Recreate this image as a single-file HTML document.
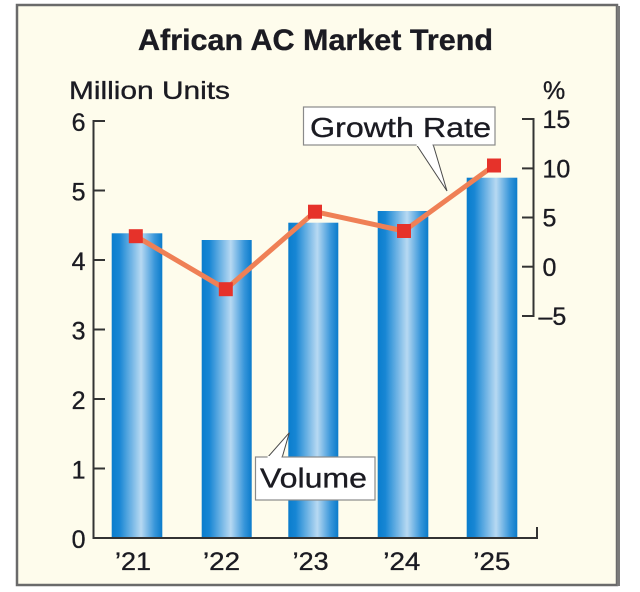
<!DOCTYPE html>
<html>
<head>
<meta charset="utf-8">
<style>
html,body{margin:0;padding:0;background:#ffffff;}
svg{display:block;}
text{font-family:"Liberation Sans",Arial,sans-serif;fill:#1b1b22;stroke:#1b1b22;stroke-width:0.35;}
</style>
</head>
<body>
<svg width="640" height="592" viewBox="0 0 640 592" xmlns="http://www.w3.org/2000/svg">
<defs>
<linearGradient id="bar" x1="0" y1="0" x2="1" y2="0">
<stop offset="0" stop-color="#0a7dcd"/>
<stop offset="0.15" stop-color="#1786d4"/>
<stop offset="0.58" stop-color="#b7d9f2"/>
<stop offset="0.85" stop-color="#3896da"/>
<stop offset="1" stop-color="#0a7bcb"/>
</linearGradient>
</defs>
<!-- frame -->
<rect x="17" y="5" width="600" height="580" fill="#fefcec" stroke="#6a6a6a" stroke-width="2.5"/>
<line x1="618.5" y1="6" x2="618.5" y2="586" stroke="#7a7a7a" stroke-width="3"/>

<!-- title -->
<text x="138" y="50" font-size="30" font-weight="bold" textLength="355" lengthAdjust="spacingAndGlyphs">African AC Market Trend</text>
<text x="69" y="99" font-size="25" textLength="161" lengthAdjust="spacingAndGlyphs">Million Units</text>
<text x="543" y="99" font-size="25">%</text>

<!-- bars -->
<rect x="111.7" y="233.3" width="50.6" height="304.7" fill="url(#bar)"/>
<rect x="201.7" y="240" width="50" height="298" fill="url(#bar)"/>
<rect x="288.3" y="222.7" width="50" height="315.3" fill="url(#bar)"/>
<rect x="377.7" y="211" width="50.6" height="327" fill="url(#bar)"/>
<rect x="466.7" y="177.7" width="50.6" height="360.3" fill="url(#bar)"/>

<!-- left axis -->
<g stroke="#333" stroke-width="2" fill="none">
<line x1="93.5" y1="120" x2="93.5" y2="539"/>
<line x1="93.5" y1="121" x2="105" y2="121"/>
<line x1="93.5" y1="190.5" x2="105" y2="190.5"/>
<line x1="93.5" y1="260" x2="105" y2="260"/>
<line x1="93.5" y1="329.5" x2="105" y2="329.5"/>
<line x1="93.5" y1="399" x2="105" y2="399"/>
<line x1="93.5" y1="468.5" x2="105" y2="468.5"/>
<line x1="92.5" y1="538" x2="537.5" y2="538"/>
<line x1="537" y1="527" x2="537" y2="539"/>
<!-- right axis -->
<line x1="533.5" y1="118" x2="533.5" y2="317"/>
<line x1="522" y1="119" x2="534" y2="119"/>
<line x1="522" y1="168.4" x2="534" y2="168.4"/>
<line x1="522" y1="217.5" x2="534" y2="217.5"/>
<line x1="522" y1="266.7" x2="534" y2="266.7"/>
<line x1="522" y1="316" x2="534" y2="316"/>
</g>

<!-- left tick labels -->
<g font-size="25" text-anchor="end">
<text x="85.5" y="131">6</text>
<text x="85.5" y="200.5">5</text>
<text x="85.5" y="270">4</text>
<text x="85.5" y="339.5">3</text>
<text x="85.5" y="409">2</text>
<text x="85.5" y="478.5">1</text>
<text x="85.5" y="548">0</text>
</g>
<!-- right tick labels -->
<g font-size="25">
<text x="542.5" y="128">15</text>
<text x="542.5" y="177.5">10</text>
<text x="542.5" y="226.5">5</text>
<text x="542.5" y="276">0</text>
<text x="538.5" y="325">–5</text>
</g>
<!-- x labels -->
<g font-size="25">
<text x="115" y="570" textLength="36" lengthAdjust="spacingAndGlyphs">’21</text>
<text x="203" y="570" textLength="37" lengthAdjust="spacingAndGlyphs">’22</text>
<text x="292.7" y="570" textLength="36" lengthAdjust="spacingAndGlyphs">’23</text>
<text x="383.3" y="570" textLength="37" lengthAdjust="spacingAndGlyphs">’24</text>
<text x="473.3" y="570" textLength="37" lengthAdjust="spacingAndGlyphs">’25</text>
</g>

<!-- growth line -->
<polyline points="135.8,236.2 225.8,289.2 315,211.7 404,231 494,165.5" fill="none" stroke="#ef8056" stroke-width="5" stroke-linejoin="round"/>
<g fill="#e6322a">
<rect x="128.8" y="229.2" width="14" height="14"/>
<rect x="218.8" y="282.2" width="14" height="14"/>
<rect x="308" y="204.7" width="14" height="14"/>
<rect x="397" y="224" width="14" height="14"/>
<rect x="487" y="158.5" width="14" height="14"/>
</g>

<!-- Growth Rate callout -->
<polygon points="416,144 433,144 447,191" fill="#ffffff" stroke="#4a4a4a" stroke-width="1"/>
<rect x="303.5" y="107" width="191.5" height="38" fill="#ffffff" stroke="#8a8a8a" stroke-width="1.2"/>
<rect x="416.6" y="143" width="15.8" height="3" fill="#ffffff"/>
<text x="310" y="137" font-size="28" textLength="181" lengthAdjust="spacingAndGlyphs">Growth Rate</text>

<!-- Volume callout -->
<polygon points="267,458 282,458 289.3,432.7" fill="#ffffff" stroke="#4a4a4a" stroke-width="1"/>
<rect x="255.5" y="457" width="119.5" height="43" fill="#ffffff" stroke="#8a8a8a" stroke-width="1.2"/>
<rect x="267.6" y="456" width="13.8" height="3" fill="#ffffff"/>
<text x="260" y="487.5" font-size="28" textLength="107" lengthAdjust="spacingAndGlyphs">Volume</text>
</svg>
</body>
</html>
